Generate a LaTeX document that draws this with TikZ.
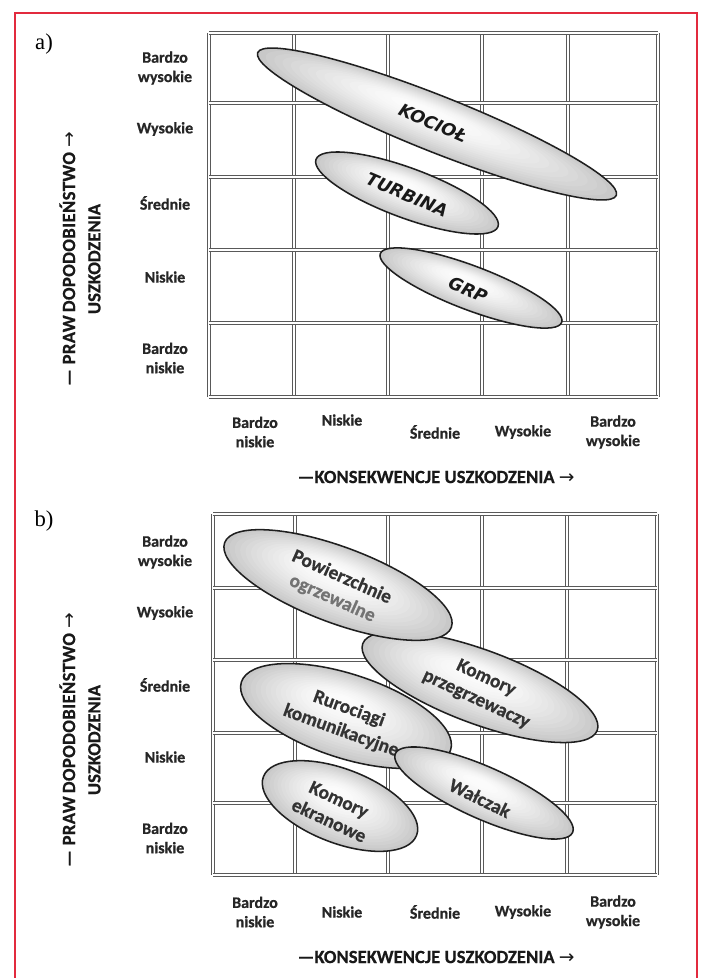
\documentclass[tikz,border=0pt]{standalone}
\usepackage{fontspec}
\newfontfamily\labelfont{Carlito}[BoldFeatures={FakeBold=0.6}]
\newfontfamily\spacedfont{Carlito}[LetterSpace=2, BoldFeatures={FakeBold=0.6}]
\newfontfamily\symfont{DejaVu Sans}
\newfontfamily\partfont{Liberation Serif}

\definecolor{framered}{RGB}{226,42,62}

\tikzset{
  gridline/.style={draw=black!65, line width=0.6pt, double=white, double distance=1.5pt},
  axislab/.style={font={\labelfont\bfseries\fontsize{12}{14.5}\selectfont}, align=center, text=black!85, inner sep=0pt},
  axistitle/.style={font={\labelfont\bfseries\fontsize{14}{19}\selectfont}, align=center, text=black!90, inner sep=0pt},
  parttag/.style={font={\partfont\fontsize{17}{17}\selectfont}, inner sep=0pt},
  bigtag/.style={font={\symfont\bfseries\itshape\fontsize{13}{14}\selectfont}, text=black!90, inner sep=0pt},
  softtag/.style={font={\labelfont\bfseries\fontsize{14.5}{17.5}\selectfont}, align=center, text=black!80, inner sep=0pt},
  blobline/.style={draw=black!88, line width=1.15pt}
}

% shaded ellipse: centre x, centre y, semi-major, semi-minor, angle
\newcommand\riskblob[5]{%
  \begin{scope}[shift={(#1,#2)}, rotate=#5]
    \foreach \k in {0,...,18}{%
      \pgfmathsetmacro\tt{\k/18}%
      \pgfmathsetmacro\ss{1-0.9*\tt}%
      \pgfmathsetmacro\cc{40*(1-\tt)^1.6+3}%
      \fill[gray!\cc] ({-0.08*#3*\tt},{-0.3*#4*\tt}) ellipse ({#3*\ss} and {#4*\ss});
    }
    \draw[blobline] (0,0) ellipse (#3 and #4);
  \end{scope}}

\begin{document}
\begin{tikzpicture}[x=0.75pt, y=-0.75pt]
\useasboundingbox (0,0) rectangle (701,978);
\fill[white] (0,0) rectangle (701,978);

% page frame
\draw[framered, line width=2.2pt] (15,978) -- (15,13) -- (697,13) -- (697,978);

% ---------------- panel a ----------------
\node[parttag] (tagA) at (44,44) {a)};

\foreach \gx in {209,294,388,482,568,658}
  \draw[gridline] (\gx,33) -- (\gx,397);
\foreach \gy in {33,103,177,250,323,397}
  \draw[gridline] (209,\gy) -- (658,\gy);

\node[axislab] (aY5) at (165,68)  {Bardzo\\wysokie};
\node[axislab] (aY4) at (165,129) {Wysokie};
\node[axislab] (aY3) at (165,203) {Średnie};
\node[axislab] (aY2) at (165,277) {Niskie};
\node[axislab] (aY1) at (165,358) {Bardzo\\niskie};

\node[axislab] (aX1) at (255,432) {Bardzo\\niskie};
\node[axislab] (aX2) at (342,420) {Niskie};
\node[axislab] (aX3) at (435,432) {Średnie};
\node[axislab] (aX4) at (523,432) {Wysokie};
\node[axislab] (aX5) at (613,432) {Bardzo\\wysokie};

\node[axistitle, rotate=90] (aYT) at (80,259)
  {{\spacedfont\bfseries — PRAW\,DOPODOBIEŃSTWO} {\symfont\mdseries →}\\USZKODZENIA};
\node[axistitle] (aXT) at (436,477)
  {—KONSEKWENCJE USZKODZENIA {\symfont\mdseries →}};

\riskblob{437}{124}{193}{28}{-21.7}
\node[bigtag, rotate=-24] (kociol)  at (433,123) {KOCIOŁ};
\riskblob{407}{193}{97}{25}{-20.3}
\node[bigtag, rotate=-23] (turbina) at (407,195) {TURBINA};
\riskblob{471}{288}{97}{22}{-20.8}
\node[bigtag, rotate=-23] (grp)     at (468,290) {GRP};

% ---------------- panel b ----------------
\node[parttag] (tagB) at (44,521) {b)};

\foreach \gx in {213,295,388,482,567,657}
  \draw[gridline] (\gx,514) -- (\gx,875);
\foreach \gy in {514,588,660,733,803,875}
  \draw[gridline] (213,\gy) -- (657,\gy);

\node[axislab] (bY5) at (165,552) {Bardzo\\wysokie};
\node[axislab] (bY4) at (165,613) {Wysokie};
\node[axislab] (bY3) at (165,685) {Średnie};
\node[axislab] (bY2) at (165,757) {Niskie};
\node[axislab] (bY1) at (165,838) {Bardzo\\niskie};

\node[axislab] (bX1) at (255,912) {Bardzo\\niskie};
\node[axislab] (bX2) at (342,912) {Niskie};
\node[axislab] (bX3) at (435,912) {Średnie};
\node[axislab] (bX4) at (523,912) {Wysokie};
\node[axislab] (bX5) at (613,912) {Bardzo\\wysokie};

\node[axistitle, rotate=90] (bYT) at (80,740)
  {{\spacedfont\bfseries — PRAW\,DOPODOBIEŃSTWO} {\symfont\mdseries →}\\USZKODZENIA};
\node[axistitle] (bXT) at (436,957)
  {—KONSEKWENCJE USZKODZENIA {\symfont\mdseries →}};

\riskblob{346}{716}{110}{42}{-18}
\node[softtag, rotate=-20] (rurociagi)    at (345,720) {Rurociągi\\komunikacyjne};
\riskblob{340}{806}{82}{37}{-21}
\node[softtag, rotate=-25] (ekranowe)     at (334,810) {Komory\\ekranowe};
\riskblob{484}{793}{97}{26}{-24}
\node[softtag, rotate=-26] (walczak)      at (480,798) {Wałczak};
\riskblob{480}{687}{125}{37}{-20.3}
\node[softtag, rotate=-25] (przegrzew)    at (481,689) {Komory\\przegrzewaczy};
\riskblob{338}{585}{121}{38}{-20.5}
\node[softtag, rotate=-24] (powierzchnie) at (337,588) {Powierzchnie\\{\color{black!55}ogrzewalne}};
\end{tikzpicture}
\end{document}
